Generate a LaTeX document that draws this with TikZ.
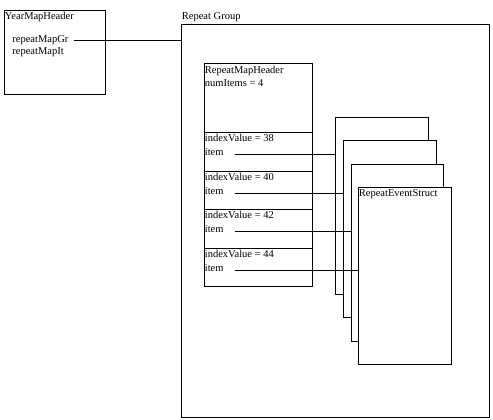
\documentclass[tikz,border=0pt]{standalone}
\usepackage{fontspec}
\setmainfont{Liberation Serif}
\begin{document}
\begin{tikzpicture}[x=1pt,y=-1pt, line width=0.8pt,
  box/.style={draw, rectangle, inner sep=0pt, anchor=north west, fill=white},
  txt/.style={inner sep=0pt, anchor=base west, font=\fontsize{10.5}{12}\selectfont},
  link/.style={draw}]
\useasboundingbox (0,0) rectangle (493,420);
% YearMapHeader
\node[box, minimum width=101pt, minimum height=84pt] (ymh) at (4,10) {};
\node[txt] (ymht) at (4.5,19.5) {YearMapHeader};
\node[txt] (rmg) at (12,42.5) {repeatMapGr};
\node[txt] (rmi) at (12,54.5) {repeatMapIt};
% Repeat Group
\node[box, minimum width=308pt, minimum height=393pt] (rg) at (181,24) {};
\node[txt] (rgt) at (181.5,19.5) {Repeat Group};
% RepeatMapHeader
\node[box, minimum width=108pt, minimum height=69pt] (hdr) at (204,63) {};
\node[txt] (hdrt) at (204.5,74) {RepeatMapHeader};
\node[txt] (numt) at (204.5,86.5) {numItems = 4};
\foreach \k/\v in {1/38,2/40,3/42,4/44}{
  \pgfmathsetmacro{\yy}{132+38.5*(\k-1)}
  \node[box, minimum width=108pt, minimum height=38.5pt] (e\k) at (204,\yy) {};
  \node[txt] (iv\k) at (204.5,\yy+9.5) {indexValue = \v};
  \node[txt] (it\k) at (204.5,\yy+23.5) {item};
}
% RepeatEventStruct stack
\node[box, minimum width=92.5pt, minimum height=177pt] (s1) at (335,117) {};
\node[box, minimum width=92.5pt, minimum height=177pt] (s2) at (343,140.3) {};
\node[box, minimum width=92.5pt, minimum height=177pt] (s3) at (350.5,163.5) {};
\node[box, minimum width=92.5pt, minimum height=177pt] (s4) at (358,186.5) {};
\node[txt] (s4t) at (358.5,196.5) {RepeatEventStruct};
% connectors
\draw[link] ([xshift=5pt,yshift=2pt]rmg.base east) coordinate (p0) -- (p0 -| rg.west);
\foreach \k in {1,2,3,4}{
  \draw[link] ([xshift=11pt,yshift=1pt]it\k.base east) coordinate (q\k) -- (q\k -| s\k.west);
}
\end{tikzpicture}
\end{document}
